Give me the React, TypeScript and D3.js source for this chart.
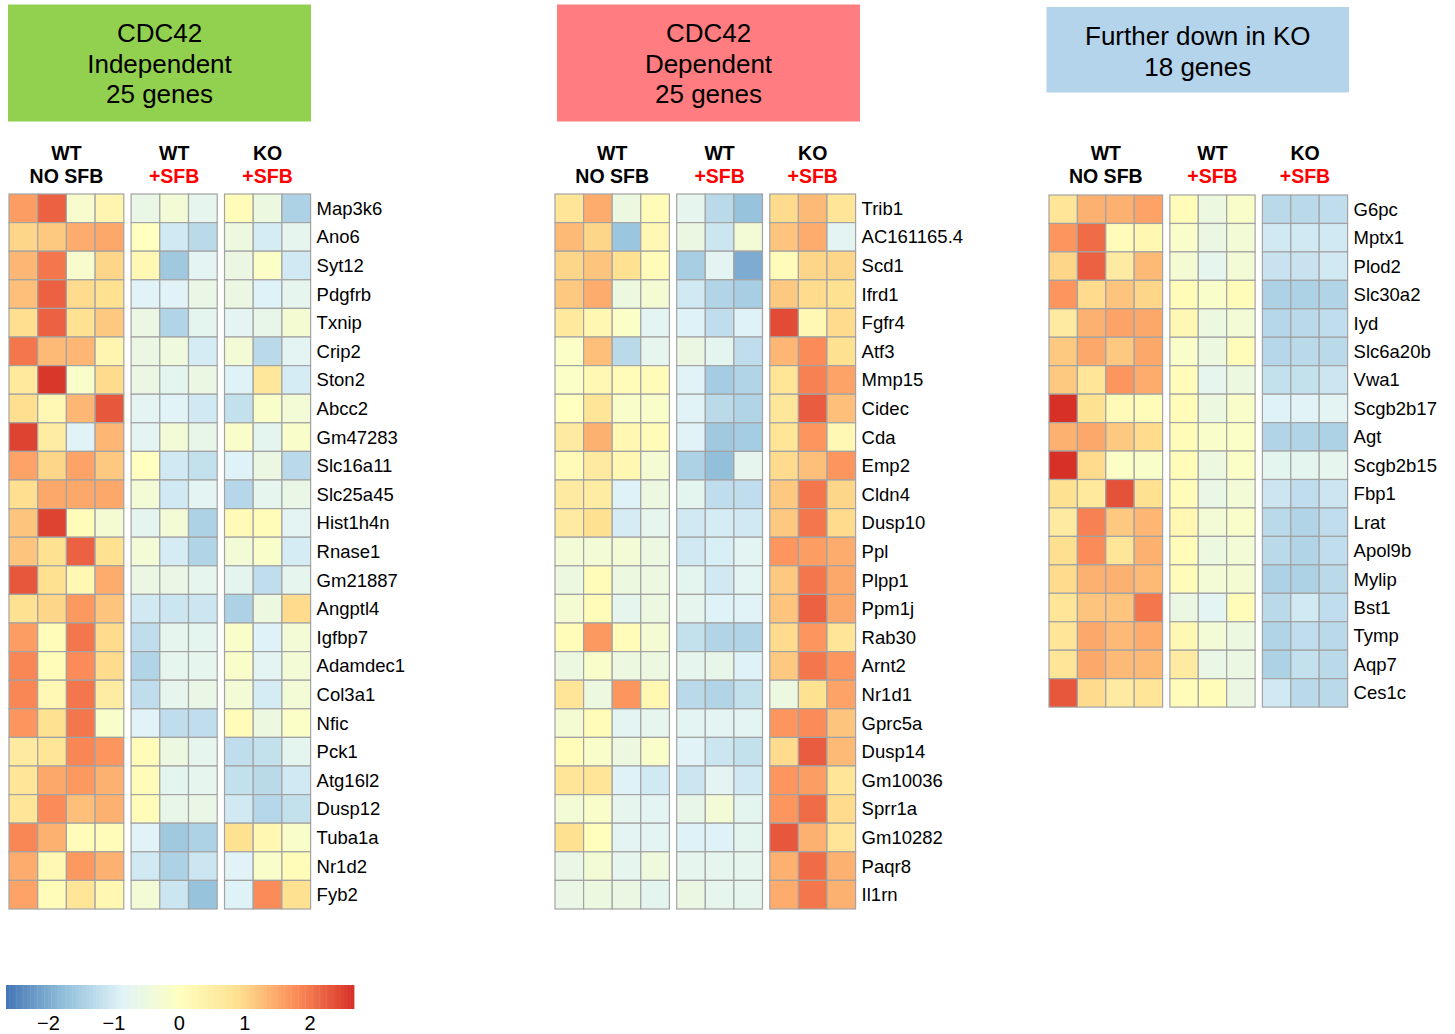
import React from "react";
import * as d3 from "d3";

// ---- sample groups ----
const groupTop = ["WT", "WT", "KO"];
const groupBottom = ["NO SFB", "+SFB", "+SFB"];
const groupSizes = [4, 3, 3];

// ---- CDC42 independent genes ----
const independentGenes = [
  "Map3k6", "Ano6", "Syt12", "Pdgfrb", "Txnip", "Crip2", "Ston2", "Abcc2", "Gm47283",
  "Slc16a11", "Slc25a45", "Hist1h4n", "Rnase1", "Gm21887", "Angptl4", "Igfbp7",
  "Adamdec1", "Col3a1", "Nfic", "Pck1", "Atg16l2", "Dusp12", "Tuba1a", "Nr1d2", "Fyb2",
];
const independentValues = [
  [1.6, 2.2, -0.2, 0.3, -0.6, -0.35, -0.7, 0.1, -0.5, -1.45],
  [1.0, 1.15, 1.45, 1.5, 0.0, -1.05, -1.3, -0.5, -1.0, -0.7],
  [1.35, 2.0, -0.2, 1.0, 0.2, -1.6, -0.8, -0.55, -0.1, -1.05],
  [1.25, 2.2, 0.95, 0.85, -0.85, -0.85, -0.6, -0.55, -0.9, -0.7],
  [0.9, 2.2, 0.85, 1.15, -0.55, -1.4, -0.75, -0.8, -0.65, -0.3],
  [2.0, 1.3, 1.35, 0.3, -0.55, -0.45, -1.0, -0.35, -1.3, -0.8],
  [0.65, 2.6, -0.15, 0.95, -0.55, -0.75, -0.55, -0.9, 0.7, -1.0],
  [0.9, 0.2, 1.35, 2.3, -0.8, -0.85, -1.05, -1.2, -0.15, -0.35],
  [2.5, 0.55, -0.85, 1.35, -0.8, -0.35, -0.65, -0.15, -0.75, -0.15],
  [1.55, 1.0, 1.55, 1.15, 0.0, -1.05, -1.2, -0.9, -0.55, -1.3],
  [0.9, 1.5, 1.5, 1.5, -0.35, -1.05, -0.8, -1.35, -0.7, -0.6],
  [1.2, 2.5, 0.1, -0.3, -0.75, -0.35, -1.45, 0.15, 0.1, -0.8],
  [1.2, 0.85, 2.2, 0.85, -0.35, -1.0, -1.4, -0.35, -0.15, -1.0],
  [2.3, 0.85, 0.2, 1.45, -0.55, -0.6, -0.7, -0.75, -1.25, -0.7],
  [0.85, 1.0, 1.65, 1.2, -1.05, -1.1, -1.1, -1.45, -0.5, 0.95],
  [1.6, 0.1, 2.0, 0.95, -1.25, -0.7, -0.75, -0.15, -0.9, -0.35],
  [1.85, 0.1, 1.8, 0.95, -1.4, -0.7, -0.7, -0.15, -0.8, -0.35],
  [1.85, 0.2, 2.0, 0.55, -1.25, -0.7, -0.6, -0.35, -1.0, -0.35],
  [1.7, 0.85, 2.0, -0.15, -0.85, -1.25, -1.25, 0.1, -0.5, -0.1],
  [0.6, 0.75, 1.85, 1.7, 0.1, -0.5, -0.7, -1.25, -1.2, -0.75],
  [0.75, 1.5, 1.65, 1.4, 0.1, -0.75, -0.7, -1.2, -1.3, -1.05],
  [0.75, 1.8, 1.25, 1.4, 0.1, -0.65, -0.6, -1.05, -1.35, -1.2],
  [1.85, 1.4, 0.1, 0.1, -0.85, -1.6, -1.45, 0.85, 0.25, -0.15],
  [1.45, 0.2, 1.65, 1.4, -1.05, -1.45, -1.1, -0.85, -0.15, 0.1],
  [1.55, 0.1, 0.75, 0.25, -0.35, -1.1, -1.7, -0.9, 1.8, 0.85],
];

// ---- CDC42 dependent genes ----
const dependentGenes = [
  "Trib1", "AC161165.4", "Scd1", "Ifrd1", "Fgfr4", "Atf3", "Mmp15", "Cidec", "Cda",
  "Emp2", "Cldn4", "Dusp10", "Ppl", "Plpp1", "Ppm1j", "Rab30", "Arnt2", "Nr1d1",
  "Gprc5a", "Dusp14", "Gm10036", "Sprr1a", "Gm10282", "Paqr8", "Il1rn",
];
const dependentValues = [
  [0.75, 1.45, -0.5, 0.1, -0.7, -1.3, -1.7, 0.95, 1.3, 0.75],
  [1.3, 1.0, -1.65, 0.2, -0.55, -1.1, -0.35, 1.2, 1.45, -0.8],
  [1.0, 1.2, 0.85, 0.1, -1.5, -0.8, -2.0, 0.1, 1.0, 1.0],
  [1.15, 1.45, -0.5, -0.3, -1.05, -1.4, -1.5, 1.15, 0.95, 0.85],
  [0.65, 0.25, -0.1, -0.8, -0.9, -1.25, -0.9, 2.4, 0.2, 0.95],
  [-0.1, 1.25, -1.3, -0.7, -0.55, -0.75, -1.25, 1.35, 1.8, 0.85],
  [-0.1, 0.2, 0.1, 0.1, -0.85, -1.55, -1.4, 0.75, 1.9, 1.55],
  [0.0, 0.75, -0.15, -0.15, -0.85, -1.3, -1.4, 0.7, 2.25, 1.25],
  [0.6, 1.4, 0.25, 0.1, -0.85, -1.6, -1.55, 0.75, 1.7, 0.2],
  [0.15, 0.6, 0.25, -0.3, -1.45, -1.75, -0.7, 0.95, 1.25, 1.7],
  [0.6, 0.55, -0.9, -0.5, -0.75, -1.25, -1.25, 1.15, 2.0, 1.0],
  [0.6, 0.85, -1.0, -0.7, -1.05, -1.0, -1.05, 1.15, 2.0, 0.95],
  [-0.35, -0.35, -0.35, -0.5, -1.05, -0.95, -0.8, 1.7, 1.6, 1.45],
  [-0.5, 0.1, -0.5, -0.5, -0.75, -1.05, -0.8, 1.15, 2.0, 1.5],
  [-0.3, 0.1, -0.7, -0.5, -0.7, -0.9, -0.85, 1.2, 2.2, 1.5],
  [0.1, 1.65, 0.1, -0.3, -1.2, -1.4, -1.4, 0.95, 1.7, 0.75],
  [-0.5, -0.15, -0.5, -0.5, -0.7, -0.65, -0.9, 1.15, 2.0, 1.7],
  [0.75, -0.5, 1.7, 0.25, -1.3, -1.4, -1.2, -0.5, 0.85, 1.55],
  [-0.3, 0.1, -0.8, -0.7, -0.8, -0.8, -0.8, 1.7, 1.8, 1.2],
  [0.1, -0.15, -0.5, -0.15, -0.85, -1.1, -1.2, 0.95, 2.25, 1.3],
  [0.75, 0.75, -0.9, -1.05, -1.1, -0.8, -1.05, 1.7, 1.6, 0.75],
  [-0.35, -0.15, -0.7, -0.8, -0.65, -0.35, -0.75, 1.7, 2.1, 0.95],
  [0.85, 0.05, -0.8, -0.8, -0.9, -0.9, -0.75, 2.3, 1.4, 0.75],
  [-0.6, -0.35, -0.7, -0.45, -0.7, -0.7, -0.7, 1.4, 2.1, 1.4],
  [-0.6, -0.5, -0.55, -0.75, -0.55, -0.7, -0.7, 1.45, 2.0, 1.4],
];

// ---- further down in KO ----
const furtherGenes = [
  "G6pc", "Mptx1", "Plod2", "Slc30a2", "Iyd", "Slc6a20b", "Vwa1", "Scgb2b17", "Agt",
  "Scgb2b15", "Fbp1", "Lrat", "Apol9b", "Mylip", "Bst1", "Tymp", "Aqp7", "Ces1c",
];
const furtherValues = [
  [0.75, 1.4, 1.4, 1.55, 0.1, -0.5, -0.15, -1.3, -1.3, -1.25],
  [1.7, 2.1, 0.1, 0.25, -0.15, -0.55, -0.35, -1.05, -1.05, -1.05],
  [1.0, 2.2, 0.6, 1.3, -0.3, -0.7, -0.35, -1.15, -1.15, -1.05],
  [1.7, 0.95, 1.2, 1.0, 0.1, -0.15, 0.1, -1.45, -1.45, -1.4],
  [0.6, 1.4, 1.55, 1.5, 0.2, -0.5, -0.35, -1.35, -1.3, -1.25],
  [1.15, 1.5, 1.15, 1.5, -0.15, -0.5, 0.1, -1.35, -1.3, -1.3],
  [1.15, 0.75, 1.7, 1.45, 0.1, -0.7, -0.5, -1.2, -1.2, -1.1],
  [2.7, 0.85, 0.15, 0.1, 0.1, -0.5, -0.15, -0.9, -0.85, -0.8],
  [1.4, 1.5, 1.15, 0.95, 0.1, -0.15, -0.1, -1.4, -1.4, -1.45],
  [2.7, 0.95, -0.1, -0.15, 0.1, -0.5, -0.1, -0.75, -0.75, -0.7],
  [0.85, 0.65, 2.35, 0.85, 0.1, -0.6, -0.35, -1.1, -1.25, -1.1],
  [0.6, 1.9, 1.15, 1.35, 0.25, -0.35, -0.15, -1.3, -1.4, -1.25],
  [0.9, 1.8, 0.75, 1.4, 0.1, -0.5, -0.35, -1.3, -1.4, -1.25],
  [0.95, 1.4, 1.4, 1.3, 0.1, -0.35, -0.3, -1.45, -1.45, -1.3],
  [0.75, 1.2, 1.2, 2.0, -0.55, -0.8, 0.1, -1.3, -1.05, -1.25],
  [0.75, 1.5, 1.3, 1.45, 0.2, -0.35, -0.5, -1.4, -1.25, -1.3],
  [0.75, 1.5, 1.3, 1.3, 0.6, -0.6, -0.55, -1.45, -1.2, -1.3],
  [2.3, 0.95, 0.6, 0.75, 0.1, 0.1, -0.55, -1.05, -1.3, -1.3],
];

// ---- colour key ----
const paletteColors = ["#4575B4", "#91BFDB", "#E0F3F8", "#FFFFBF", "#FEE090", "#FC8D59", "#D73027"];
const colorMin = -2.65;
const colorMax = 2.67;
const legendTicks = [-2, -1, 0, 1, 2];

const FONT = "'Liberation Sans', Arial, Helvetica, sans-serif";

const color = d3
  .scaleLinear<string>()
  .domain(paletteColors.map((_, i) => colorMin + (i * (colorMax - colorMin)) / (paletteColors.length - 1)))
  .range(paletteColors)
  .interpolate(d3.interpolateRgb)
  .clamp(true);

type PanelProps = {
  x0: number;
  y0: number;
  cw: number;
  rh: number;
  gap: number;
  genes: string[];
  values: number[][];
  box: { x: number; y: number; w: number; h: number; fill: string; lines: string[]; baselines: number[] };
};

function HeatPanel({ x0, y0, cw, rh, gap, genes, values, box }: PanelProps) {
  const groupIndex = groupSizes.flatMap((n, g) => d3.range(n).map(() => g));
  const colX = d3
    .scaleLinear()
    .domain([0, 1])
    .range([x0, x0 + cw]);
  const xOf = (i: number) => colX(i) + groupIndex[i] * gap;
  const y = d3
    .scaleBand<string>()
    .domain(genes)
    .range([y0, y0 + genes.length * rh])
    .paddingInner(0);
  const starts = d3.cumsum([0, ...groupSizes]);
  const groupCenters = groupSizes.map((n, g) => xOf(starts[g]) + (n * cw) / 2);
  const rightEdge = xOf(groupIndex.length - 1) + cw;

  return (
    <g>
      <rect x={box.x} y={box.y} width={box.w} height={box.h} fill={box.fill} />
      {box.lines.map((t, i) => (
        <text
          key={t}
          x={box.x + box.w / 2}
          y={box.baselines[i]}
          textAnchor="middle"
          fontSize={26}
          fontFamily={FONT}
          fill="#000"
        >
          {t}
        </text>
      ))}
      {groupCenters.map((cx, g) => (
        <g key={g} fontFamily={FONT} fontWeight="bold" fontSize={19.5} textAnchor="middle">
          <text x={cx} y={160} fill="#000">
            {groupTop[g]}
          </text>
          <text x={cx} y={183} fill={groupBottom[g].startsWith("+") ? "#FF0000" : "#000"}>
            {groupBottom[g]}
          </text>
        </g>
      ))}
      {values.map((row, r) =>
        row.map((v, c) => (
          <rect
            key={`${r}-${c}`}
            x={xOf(c)}
            y={y(genes[r])!}
            width={cw}
            height={y.bandwidth()}
            fill={color(v)}
            stroke="#A3A3A3"
            strokeWidth={1.2}
          />
        ))
      )}
      {genes.map((gname) => (
        <text
          key={gname}
          x={rightEdge + 6}
          y={y(gname)! + y.bandwidth() / 2}
          dominantBaseline="central"
          fontSize={18.5}
          fontFamily={FONT}
          fill="#000"
        >
          {gname}
        </text>
      ))}
    </g>
  );
}

function ColorKey() {
  const x = d3.scaleLinear().domain([colorMin, colorMax]).range([6, 354]);
  const steps = d3.range(100).map((i) => colorMin + ((i + 0.5) * (colorMax - colorMin)) / 100);
  const stepW = (x.range()[1] - x.range()[0]) / 100;
  const fmt = d3.format("d");
  return (
    <g>
      {steps.map((v, i) => (
        <rect key={i} x={x.range()[0] + i * stepW} y={985} width={stepW + 0.4} height={24} fill={color(v)} />
      ))}
      {legendTicks.map((t) => (
        <text key={t} x={x(t)} y={1030} textAnchor="middle" fontSize={20} fontFamily={FONT} fill="#000">
          {fmt(t)}
        </text>
      ))}
    </g>
  );
}

export default function App() {
  return (
    <svg
      width={1455}
      height={1034}
      viewBox="0 0 1455 1034"
      style={{ position: "absolute", left: 0, top: 0, background: "#fff" }}
    >
      <rect width={1455} height={1034} fill="#fff" />
      <HeatPanel
        x0={9}
        y0={194}
        cw={28.7}
        rh={28.6}
        gap={7.3}
        genes={independentGenes}
        values={independentValues}
        box={{ x: 8, y: 4.5, w: 303, h: 117, fill: "#92D050", lines: ["CDC42", "Independent", "25 genes"], baselines: [41.5, 72.5, 103] }}
      />
      <HeatPanel
        x0={555}
        y0={194}
        cw={28.6}
        rh={28.6}
        gap={7.3}
        genes={dependentGenes}
        values={dependentValues}
        box={{ x: 557, y: 4.5, w: 303, h: 117, fill: "#FF7C80", lines: ["CDC42", "Dependent", "25 genes"], baselines: [41.5, 72.5, 103] }}
      />
      <HeatPanel
        x0={1049}
        y0={195}
        cw={28.4}
        rh={28.45}
        gap={7.3}
        genes={furtherGenes}
        values={furtherValues}
        box={{ x: 1046.5, y: 7, w: 302.5, h: 85.5, fill: "#B4D4EC", lines: ["Further down in KO", "18 genes"], baselines: [44.5, 75.5] }}
      />
      <ColorKey />
    </svg>
  );
}
